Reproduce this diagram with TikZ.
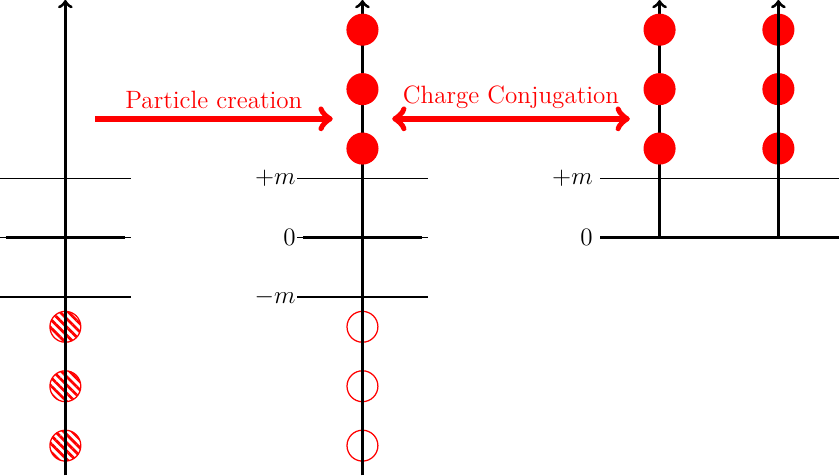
\documentclass[tikz,border=0pt]{standalone}
\usepackage{tikz}
\usetikzlibrary{patterns.meta}

\begin{document}
\begin{tikzpicture}[
    axis/.style={->, line width=1.5pt},
    level/.style={semithick},
    zero line/.style={line width=1.5pt},
    particle/.style={circle, fill=red, minimum size=0.54cm, inner sep=0pt},
    hole/.style={circle, draw=red, semithick, minimum size=0.52cm,
                 inner sep=0pt},
    sea/.style={hole, pattern={Lines[angle=-45, distance=2.8pt,
                line width=1.3pt]}, pattern color=red},
    big arrow/.style={->, red, line width=3pt},
    lbl/.style={font=\large},
  ]
    \useasboundingbox (-1.1,-4) rectangle (13.02,4);

    % Dirac sea
    \draw[level] (-1.1,1) -- (1.1,1);
    \draw[level] (-1.1,0) -- (1.1,0);
    \draw[level] (-1.1,-1) -- (1.1,-1);
    \draw[zero line] (-1,0) -- (1,0);
    \foreach \i in {1,2,3}
      \node[sea] (S-\i) at (0,-\i-0.5) {};
    \coordinate (A1-b) at (0,-4);
    \coordinate (A1-t) at (0,4);
    \draw[axis] (A1-b) -- (A1-t);

    % After particle creation
    \draw[level] (3.9,1) -- (6.1,1);
    \draw[level] (3.9,0) -- (6.1,0);
    \draw[level] (3.9,-1) -- (6.1,-1);
    \draw[zero line] (4,0) -- (6,0);
    \node[lbl, left] (L-p) at (4,1) {$+m$};
    \node[lbl, left] (L-0) at (4,0) {$0$};
    \node[lbl, left] (L-m) at (4,-1) {$-m$};
    \foreach \i in {1,2,3}
      \node[hole] (H-\i) at (5,-\i-0.5) {};
    \coordinate (A2-b) at (5,-4);
    \coordinate (A2-t) at (5,4);
    \draw[axis] (A2-b) -- (A2-t);
    \foreach \i in {1,2,3}
      \node[particle] (P-\i) at (5,\i+0.5) {};

    % Charge conjugated picture
    \draw[level] (9,1) -- (13.02,1);
    \draw[zero line] (9,0) -- (13.02,0);
    \node[lbl, left] (R-p) at (9,1) {$+m$};
    \node[lbl, left] (R-0) at (9,0) {$0$};
    \foreach \i in {1,2,3}
      \node[particle] (Q-\i) at (12,\i+0.5) {};
    \coordinate (A3-b) at (10,0);
    \coordinate (A3-t) at (10,4);
    \coordinate (A4-b) at (12,0);
    \coordinate (A4-t) at (12,4);
    \draw[axis] (A3-b) -- (A3-t);
    \draw[axis] (A4-b) -- (A4-t);
    \foreach \i in {1,2,3}
      \node[particle] (C-\i) at (10,\i+0.5) {};

    % Arrows between the pictures
    \coordinate (pc-s) at (0.5,2);
    \coordinate (pc-e) at (4.5,2);
    \coordinate (cc-s) at (5.5,2);
    \coordinate (cc-e) at (9.5,2);
    \draw[big arrow] (pc-s) -- (pc-e)
      node[midway, above, lbl, text=red] {Particle creation};
    \draw[big arrow, <->] (cc-s) -- (cc-e)
      node[midway, above, lbl, text=red] {Charge Conjugation};
\end{tikzpicture}
\end{document}
